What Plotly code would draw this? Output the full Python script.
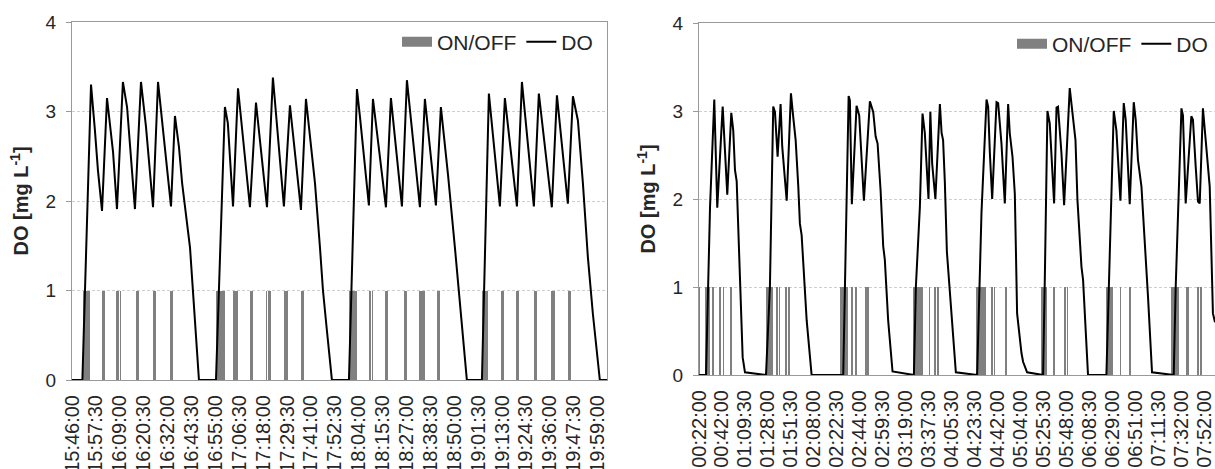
import plotly.graph_objects as go

# ---------------- data: left panel (sample index, 30 s per sample) ----------------
left_labels = ["15:46:00", "15:57:30", "16:09:00", "16:20:30", "16:32:00", "16:43:30",
               "16:55:00", "17:06:30", "17:18:00", "17:29:30", "17:41:00", "17:52:30",
               "18:04:00", "18:15:30", "18:27:00", "18:38:30", "18:50:00", "19:01:30",
               "19:13:00", "19:24:30", "19:36:00", "19:47:30", "19:59:00"]
left_label_step = 23
left_range_end = 515

left_do_idx = [0, 10, 12.5, 18.3, 22, 25, 28.9, 33.7, 39.5, 43.3, 49, 53, 60.6, 66.4, 71.2, 78,
               82.8, 95.3, 99.1, 103, 106, 113.6, 122.2, 138.6,
               147.2, 150, 155, 159.8, 171.3, 177.1, 187.7, 193.4, 204, 209.8, 212.7, 220.4,
               225.2, 229, 233.9, 238.7, 241.6, 245.4, 250.2, 266.6,
               274.3, 277.2, 285.8, 289.7, 302.2, 307, 317.6, 322.4, 334.9, 339.7, 350.3,
               355.1, 359, 361.9, 368.6, 375.3, 380.1, 394.6, 396.5,
               401.3, 411.9, 416.7, 428.3, 433.1, 444.6, 449.4, 461.9, 466.8, 477.3, 482.2,
               487, 491.8, 496.6, 501.4, 508.1, 515]
left_do_val = [0, 0, 1.0, 3.30, 2.8, 2.34, 1.89, 3.15, 2.55, 1.91, 3.33, 3.05, 1.91, 3.33, 2.83, 1.93,
               3.33, 1.94, 2.95, 2.6, 2.2, 1.48, 0, 0,
               3.05, 2.87, 1.94, 3.26, 1.93, 3.10, 1.93, 3.38, 1.94, 3.07, 2.75, 1.90,
               3.14, 2.75, 2.2, 1.48, 1.0, 0.55, 0, 0,
               3.25, 2.94, 1.95, 3.14, 1.93, 3.15, 1.94, 3.35, 1.93, 3.14, 1.95,
               3.05, 2.64, 2.3, 1.48, 0.58, 0, 0, 1.0,
               3.2, 1.94, 3.15, 1.94, 3.33, 1.94, 3.2, 1.93, 3.18, 1.97, 3.17,
               2.9, 2.2, 1.37, 0.74, 0, 0]

left_on_start = [10.5, 28.5, 42.5, 46, 61.5, 77.5, 94.5, 138.5, 145.5, 154.5, 158, 171.5, 186.5,
                 189, 204.5, 220.5, 266.5, 273, 285.5, 288.5, 301.5, 319.5, 334.5, 338, 351.5,
                 394.5, 412.5, 427.5, 444.5, 461.5, 477.5]
left_on_len = [6.5, 3, 3, 1.5, 3, 3, 3, 6.5, 1.5, 3, 1.5, 3, 1.5,
               2.5, 3, 3, 6.5, 1.5, 2.5, 1.5, 3, 3, 3, 1.5, 3,
               5.5, 3, 3, 3, 3, 3]

# ---------------- data: right panel (sample index) ----------------
right_labels = ["00:22:00", "00:42:00", "01:09:30", "01:28:00", "01:51:30", "02:08:00",
                "02:22:30", "02:44:00", "02:59:30", "03:19:00", "03:37:30", "04:05:30",
                "04:23:30", "04:42:00", "05:04:00", "05:25:30", "05:48:00", "06:08:30",
                "06:29:00", "06:51:00", "07:11:30", "07:32:00", "07:52:00"]
right_label_step = 20
right_range_end = 449

right_do_idx = [0, 6.1, 9.6, 13.3, 15.9, 20.6, 24.6, 28.1, 29.8, 31.3, 32.8, 35.7, 38, 40, 58.3,
                61.7, 64.6, 66.1, 68.4, 71, 72.4, 76.3, 80, 82, 84.1, 86.4, 87.8, 89.3, 93.7, 98, 125.5,
                130.2, 131.3, 133, 137.1, 139.4, 143.5, 148.7, 151.6, 153.7, 155.4, 158, 160.3, 161.7,
                164.6, 168.4, 187,
                188.7, 192.2, 194.5, 196.5, 199.7, 201.3, 202.9, 205.7, 209.6, 211.1, 212.4, 213.9,
                215.7, 219.8, 223.5, 242,
                244.4, 245.8, 250.2, 251.6, 253.1, 255.1, 258.9, 260.3, 263.2, 266.1, 269, 270.4,
                272.8, 274.8, 275.7, 276.8, 280.6, 282, 285.5, 299.4,
                300.9, 303.2, 305.2, 309, 311.1, 312.4, 315.4, 317.7, 322.6, 325.5, 327.6, 329.3,
                331.3, 332.8, 334.2, 338.5, 354.5,
                356.8, 360.9, 363.2, 366.7, 369.6, 371.3, 374.8, 378.3, 380, 382, 385, 386.4, 390.7,
                394.2, 413.1,
                414.8, 416.8, 419.8, 421.1, 423.5, 428.4, 429.8, 432.2, 434.2, 435.7, 438.5, 440.9,
                444.4, 447.2, 449]
right_do_val = [0, 0, 1.91, 3.13, 1.90, 3.05, 2.05, 2.98, 2.78, 2.33, 2.2, 1.19, 0.2, 0.03, 0,
                1.0, 3.05, 2.99, 2.48, 3.08, 2.6, 1.98, 3.2, 2.93, 2.67, 2.14, 1.72, 1.59, 0.62, 0, 0,
                3.17, 3.12, 1.94, 3.06, 2.95, 1.98, 3.11, 2.99, 2.71, 2.63, 2.1, 1.46, 1.31,
                0.62, 0.04, 0,
                1.0, 1.91, 2.97, 2.75, 2.0, 2.99, 2.4, 2.0, 3.08, 2.75, 2.67, 2.2,
                1.4, 0.7, 0.03, 0,
                1.0, 1.84, 3.13, 3.05, 2.52, 2.0, 3.1, 3.09, 2.63, 1.95, 3.08, 2.75,
                2.48, 2.06, 1.46, 0.7, 0.25, 0.15, 0.03, 0,
                1.08, 3.0, 2.86, 1.95, 3.04, 3.05, 2.52, 1.93, 3.26, 2.92, 2.67, 1.99,
                1.46, 1.23, 1.08, 0, 0,
                1.08, 3.0, 2.78, 1.98, 3.09, 2.9, 1.94, 3.1, 2.9, 2.44, 2.14, 1.84, 0.89,
                0.03, 0,
                1.0, 1.84, 3.03, 2.95, 1.95, 2.94, 2.9, 2.37, 1.97, 1.95, 3.03, 2.67,
                2.14, 0.7, 0.6]

right_on_start = [0.2, 2.2, 5.2, 11, 17.6, 21, 27,
                  58.3, 67.3, 69.5, 75.2, 77.5,
                  122.6, 132.6, 135.6, 144.2, 146.5,
                  185.8, 192.6, 200, 204.4, 206.8,
                  240.9, 254.3, 256.4, 266.6,
                  298, 308.3, 317.6, 320,
                  354.5, 366, 374.1,
                  411, 424, 433.5, 436]
right_on_len = [0.8, 0.8, 4.4, 2.2, 1.8, 1, 1.4,
                6.3, 1.4, 0.9, 1.6, 1.8,
                7.2, 1.6, 1.7, 1.8, 1,
                6.5, 1.9, 1, 1.4, 1.6,
                8.7, 1.4, 1.4, 1,
                4.4, 1.4, 1.4, 1.4,
                5.8, 1.4, 1.4,
                6.7, 2.3, 1.6, 1.5]

# ---------------- styling ----------------
FONT = "Liberation Sans, Arial, sans-serif"
BAR_COLOR = "#808080"
AXIS_COLOR = "#999999"
GRID_COLOR = "#cfcfcf"
TEXT_COLOR = "#262626"

fig = go.Figure()


def add_panel(fig, on_start, on_len, do_idx, do_val, xa, ya, legend):
    fig.add_trace(go.Bar(
        x=[s + l / 2 for s, l in zip(on_start, on_len)],
        y=[1] * len(on_start),
        width=on_len,
        marker=dict(color=BAR_COLOR, line=dict(width=0)),
        name="ON/OFF", showlegend=False, xaxis=xa, yaxis=ya,
    ))
    # legend key drawn as a wide grey swatch, like the original
    fig.add_trace(go.Scatter(
        x=[None], y=[None], mode="lines",
        line=dict(color=BAR_COLOR, width=10),
        name="ON/OFF", legend=legend, xaxis=xa, yaxis=ya,
    ))
    fig.add_trace(go.Scatter(
        x=do_idx, y=do_val, mode="lines",
        line=dict(color="#000000", width=2),
        name="DO", legend=legend, xaxis=xa, yaxis=ya,
    ))


add_panel(fig, left_on_start, left_on_len, left_do_idx, left_do_val, "x", "y", "legend")
add_panel(fig, right_on_start, right_on_len, right_do_idx, right_do_val, "x2", "y2", "legend2")

W, H = 1215, 469


def xaxis_cfg(domain, labels, step, rng, anchor):
    return dict(
        domain=domain, range=[0, rng], anchor=anchor, automargin=False,
        tickmode="array",
        tickvals=[i * step for i in range(len(labels))],
        ticktext=labels, tickangle=-90,
        tickfont=dict(family=FONT, size=20, color=TEXT_COLOR),
        ticks="", ticklabelstandoff=6, ticklabeloverflow="allow",
        showline=True, linecolor=AXIS_COLOR, linewidth=1, mirror=True,
        showgrid=False, zeroline=False, fixedrange=True,
    )


def yaxis_cfg(domain, mirror, standoff, anchor):
    return dict(
        domain=domain, range=[0, 4], anchor=anchor, automargin=False,
        tickmode="linear", tick0=0, dtick=1,
        tickfont=dict(family=FONT, size=19, color=TEXT_COLOR),
        ticks="outside", ticklen=5, tickcolor=AXIS_COLOR, ticklabelstandoff=6,
        ticklabeloverflow="allow",
        showline=True, linecolor=AXIS_COLOR, linewidth=1, mirror=mirror,
        showgrid=True, gridcolor=GRID_COLOR, griddash="3px,2px", gridwidth=1,
        zeroline=False, fixedrange=True,
        title=dict(text="<b>DO [mg L<sup>-1</sup>]</b>",
                   font=dict(family=FONT, size=20, color=TEXT_COLOR),
                   standoff=standoff),
    )


xl = xaxis_cfg([72 / W, 607 / W], left_labels, left_label_step, left_range_end, "y")
xr = xaxis_cfg([699 / W, 1.0], right_labels, right_label_step, right_range_end, "y2")
yl = yaxis_cfg([1 - 380 / H, 1 - 22 / H], True, 11, "x")
yr = yaxis_cfg([1 - 375 / H, 1 - 23 / H], False, 11, "x2")

legend_common = dict(
    orientation="h", xanchor="right", yanchor="middle",
    font=dict(family=FONT, size=21, color=TEXT_COLOR),
    bgcolor="rgba(0,0,0,0)", borderwidth=0, itemclick=False, itemdoubleclick=False,
)

fig.update_layout(
    width=W, height=H, autosize=False,
    margin=dict(l=0, r=0, t=0, b=0, pad=0, autoexpand=False),
    paper_bgcolor="white", plot_bgcolor="white",
    font=dict(family=FONT, color=TEXT_COLOR),
    bargap=0, barmode="overlay",
    hovermode=False,
    xaxis=xl, yaxis=yl, xaxis2=xr, yaxis2=yr,
    legend=dict(x=598 / W, y=1 - 42 / H, **legend_common),
    legend2=dict(x=1213 / W, y=1 - 44 / H, **legend_common),
)

fig.write_html(
    "out.html",
    config={"displayModeBar": False, "staticPlot": True},
    post_script="document.body.style.margin='0px'; document.body.style.overflow='hidden';",
)
